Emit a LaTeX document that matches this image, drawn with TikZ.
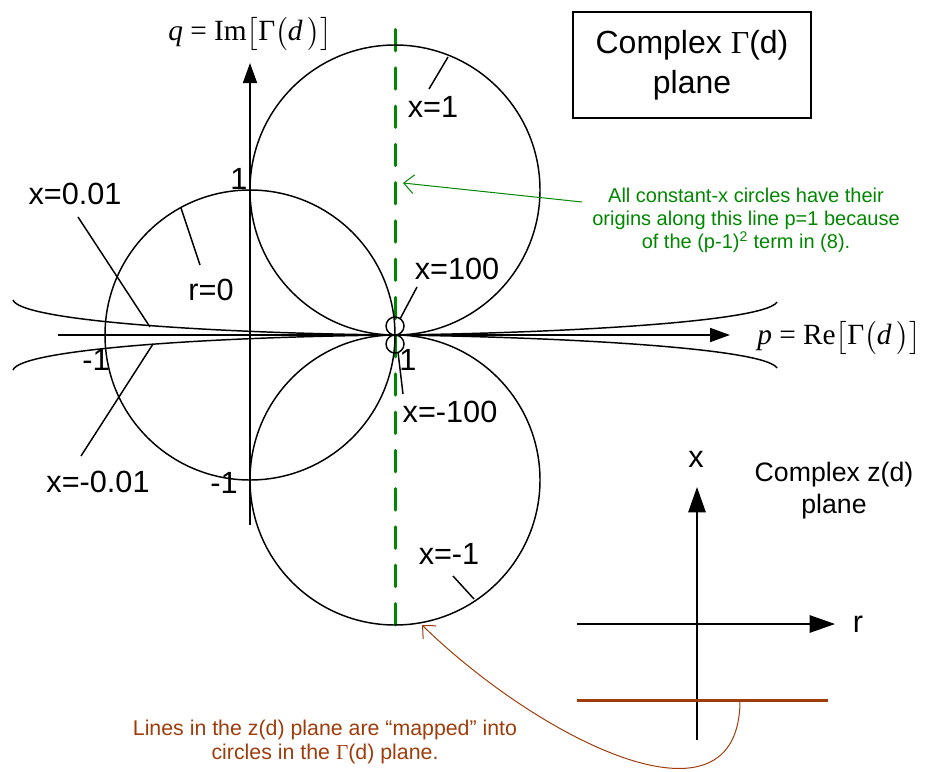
\documentclass[tikz,border=0pt]{standalone}
\usepackage{amsmath}
\usepackage{fontspec}
\setmainfont{Liberation Sans}
\newfontfamily\serif{Liberation Serif}
\usetikzlibrary{arrows.meta}
\definecolor{grn}{RGB}{0,135,0}
\definecolor{brn}{RGB}{160,60,10}
\begin{document}
\begin{tikzpicture}[x=0.75pt,y=-0.75pt,
  crv/.style={draw=black, line width=1.1pt},
  ptr/.style={draw=black, line width=1.1pt},
  axis/.style={draw=black, line width=1.3pt, -{Triangle[length=15pt,width=10.5pt]}},
  zaxis/.style={draw=black, line width=1.3pt, -{Triangle[length=19pt,width=13pt]}},
  lbl/.style={inner sep=0pt, font=\fontsize{23}{27}\selectfont},
  mathlbl/.style={inner sep=0pt, font=\serif\fontsize{22}{25}\selectfont},
  note/.style={inner sep=0pt, align=center},
  barb/.style={-{Straight Barb[length=7.5pt,width=14pt]}, line width=0.75pt}]
\useasboundingbox (0,0) rectangle (942,771);

% green dashed line p=1
\draw[grn, line width=2.25pt, line cap=round, dash pattern=on 16pt off 12.7pt] (395,29.5) -- (395,627);

% constant circles
\draw[crv] (250,335) circle[radius=108.75pt];
\draw[crv] (395,190) circle[radius=108.75pt];
\draw[crv] (395,480) circle[radius=108.75pt];
\draw[crv] (395,326) circle[radius=6.75pt];
\draw[crv] (395,344) circle[radius=6.75pt];

% x = +-0.01 curves
\draw[crv] (13,300) .. controls (20,320) and (200,333) .. (395,335)
                    .. controls (560,333) and (765,322) .. (777,302);
\draw[crv] (13,370) .. controls (20,350) and (200,337) .. (395,335)
                    .. controls (560,337) and (765,348) .. (777,368);

% Gamma axes
\draw[axis] (58,335) -- (730,335);
\draw[axis] (250,525) -- (250,63);

% axis labels
\node[mathlbl] (qlbl) at (250,34) {\textit{q} = Im$\bigl[$Γ$\bigl($\textit{d}\,$\bigr)\bigr]$};
\node[mathlbl] (plbl) at (839,338) {\textit{p} = Re$\bigl[$Γ$\bigl($\textit{d}\,$\bigr)\bigr]$};

% tick labels
\node[lbl] (one) at (239,179) {1};
\node[lbl] (mone) at (224,483) {-1};
\node[lbl] (mleft) at (96,360) {-1};
\node[lbl] (pone) at (408,360) {1};

% curve labels and pointers
\node[lbl] (lx1) at (433,107) {x=1};
\coordinate (a1) at (429,89); \coordinate (b1) at (448,57);
\draw[ptr] (a1) -- (b1);

\node[lbl] (lxm1) at (449,554) {x=-1};
\coordinate (a2) at (453,576); \coordinate (b2) at (474,599);
\draw[ptr] (a2) -- (b2);

\node[lbl] (lx100) at (457,269) {x=100};
\coordinate (a3) at (417,287); \coordinate (b3) at (400,319);
\draw[ptr] (a3) -- (b3);

\node[lbl] (lxm100) at (450,412) {x=-100};
\coordinate (a4) at (403,394); \coordinate (b4) at (398,352);
\draw[ptr] (a4) -- (b4);

\node[lbl] (lx001) at (75,194) {x=0.01};
\coordinate (a5) at (78,217); \coordinate (b5) at (150,327);
\draw[ptr] (a5) -- (b5);

\node[lbl] (lxm001) at (98,482) {x=-0.01};
\coordinate (a6) at (81,456); \coordinate (b6) at (153,344);
\draw[ptr] (a6) -- (b6);

\node[lbl] (lr0) at (211,290) {r=0};
\coordinate (a7) at (200,265); \coordinate (b7) at (181,208);
\draw[ptr] (a7) -- (b7);

% title box
\node[draw=black, line width=1.1pt, minimum width=178.5pt, minimum height=79.5pt, inner sep=0pt,
      align=center, font=\fontsize{24}{30}\selectfont] (gbox) at (692,65)
      {Complex {\serif Γ}(d)\\plane};

% green note
\node[note, text=grn, font=\fontsize{15}{17.3}\selectfont] (gnote) at (746,220)
  {All constant-x circles have their\\origins along this line p=1 because\\of the (p-1)\textsuperscript{2} term in (8).};
\coordinate (gtail) at (582,202); \coordinate (gtip) at (403,183);
\draw[grn, barb] (gtail) -- (gtip);

% z plane
\draw[zaxis] (577,624) -- (835,624);
\draw[zaxis] (697,740) -- (697,487);
\node[lbl] (rlbl) at (858,624) {r};
\node[lbl] (xlbl) at (696,459) {x};
\node[note, font=\fontsize{20}{24}\selectfont] (zlbl) at (834,491) {Complex z(d)\\plane};
\coordinate (bl) at (577,700); \coordinate (br) at (828,700);
\draw[brn, line width=2.25pt] (bl) -- (br);

% brown mapping arrow
\coordinate (mstart) at (740,700); \coordinate (mtip) at (422,625);
\draw[brn, barb] (mstart) .. controls (740,840) and (540,740) .. (mtip);
\node[note, text=brn, font=\fontsize{16}{17.3}\selectfont] (bnote) at (325,742)
  {Lines in the z(d) plane are “mapped” into\\circles in the {\serif Γ}(d) plane.};
\end{tikzpicture}
\end{document}
